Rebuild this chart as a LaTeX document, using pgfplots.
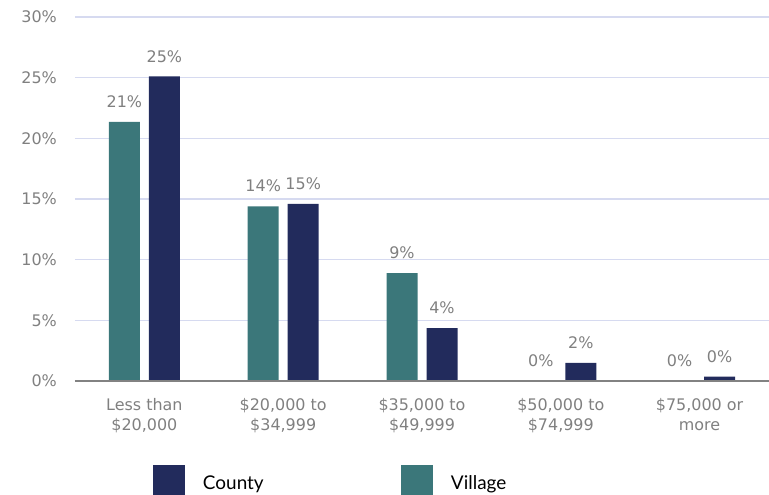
\documentclass[border=0pt]{standalone}
\usepackage{pgfplots}
\pgfplotsset{compat=1.18}
\usepackage{fontspec}
\setmainfont{DejaVu Sans}
\newfontfamily\legfont{Lato}
\definecolor{county}{RGB}{34,43,92}
\definecolor{village}{RGB}{59,119,122}
\definecolor{gridc}{RGB}{214,218,240}
\definecolor{labc}{RGB}{128,128,128}
\definecolor{axc}{RGB}{130,130,130}
\begin{document}
\begin{tikzpicture}
\begin{axis}[
  scale only axis, width=694bp, height=364bp,
  at={(0,0)}, anchor=south west,
  ymin=0, ymax=30, xmin=-0.5, xmax=4.5,
  ytick={0,5,...,30},
  yticklabel={\pgfmathprintnumber{\tick}\%},
  ymajorgrids, major grid style={draw=gridc, line width=1.4bp},
  axis line style={draw=none},
  major tick length=0pt,
  xtick={0,1,2,3,4},
  xticklabels={{Less than\\\$20,000},{\$20,000 to\\\$34,999},{\$35,000 to\\\$49,999},{\$50,000 to\\\$74,999},{\$75,000 or\\more}},
  /pgf/number format/assume math mode=true,
  tick label style={font=\fontsize{16}{20.5}\selectfont, text=labc, inner sep=0pt},
  yticklabel style={anchor=east, xshift=-18bp},
  xticklabel style={align=center, anchor=north, yshift=-17bp},
  ybar, bar width=31bp,
  clip=false,
  nodes near coords={\pgfmathprintnumber[fixed,precision=0]{\pgfplotspointmeta}\%},
  every node near coord/.append style={font=\fontsize{16}{18}\selectfont, text=labc, inner sep=0pt, anchor=south, yshift=14bp},
  legend columns=2,
  legend style={at={(0,0)}, anchor=north west, xshift=78bp, yshift=-84bp, draw=none, inner sep=0pt, outer sep=0pt, column sep=0pt, row sep=0pt, font=\legfont\fontsize{19}{22}\selectfont, text=black},
]
\addplot[fill=county, draw=none, bar shift=20bp, legend image code/.code={\fill[county] (0bp,-10bp) rectangle (32bp,22bp);}] coordinates {(0,25.1) (1,14.6) (2,4.35) (3,1.5) (4,0.36)};
\addlegendentry{\hspace*{16bp}\makebox[196bp][l]{\raisebox{7bp}{County}}}
\addplot[fill=village, draw=none, bar shift=-20bp, legend image code/.code={\fill[village] (0bp,-10bp) rectangle (32bp,22bp);}] coordinates {(0,21.35) (1,14.4) (2,8.9) (3,0) (4,0)};
\addlegendentry{\hspace*{16bp}\raisebox{7bp}{Village}}
\draw[draw=axc, line width=1.5bp] (rel axis cs:0,0) -- (rel axis cs:1,0);
\end{axis}
\pgfresetboundingbox
\path[use as bounding box] (-75bp,-114bp) rectangle (694bp,381bp);
\end{tikzpicture}
\end{document}
